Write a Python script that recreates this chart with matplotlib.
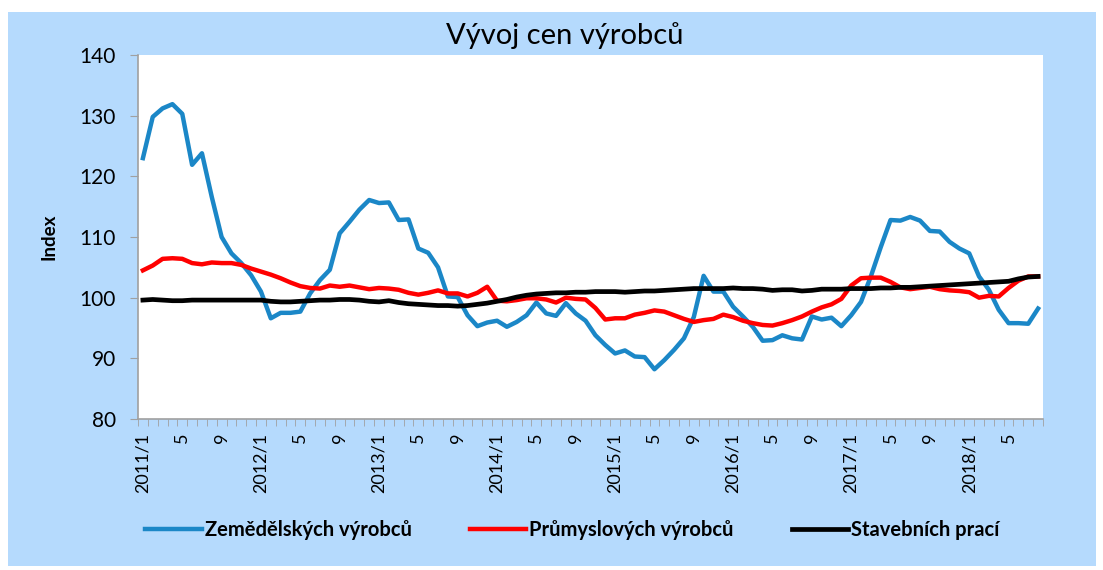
import matplotlib.pyplot as plt
from matplotlib.patches import Rectangle
from matplotlib.ticker import FixedLocator, NullFormatter

plt.rcParams['font.family'] = ['Lato', 'DejaVu Sans']

# měsíce 2011/1 .. 2018/8
n_months = 92
month_labels = []
for i in range(n_months):
    y, m = 2011 + i // 12, i % 12 + 1
    if m == 1:
        month_labels.append(f"{y}/1")
    elif m in (5, 9):
        month_labels.append(str(m))
    else:
        month_labels.append("")

zemedelske = [
    123.0, 129.8, 131.2, 131.9, 130.3, 121.9, 123.8, 116.6, 110.0, 107.3, 105.7, 103.7,
    101.0, 96.6, 97.5, 97.5, 97.7, 100.7, 102.9, 104.6, 110.6, 112.5, 114.5, 116.1,
    115.6, 115.7, 112.8, 112.9, 108.1, 107.4, 105.0, 100.2, 100.1, 97.1, 95.3, 95.9,
    96.2, 95.2, 96.0, 97.1, 99.2, 97.4, 97.0, 99.1, 97.4, 96.2, 93.8, 92.2,
    90.8, 91.3, 90.3, 90.2, 88.2, 89.7, 91.4, 93.3, 96.8, 103.6, 101.0, 101.0,
    98.5, 96.9, 95.2, 92.9, 93.0, 93.8, 93.3, 93.1, 96.9, 96.4, 96.7, 95.3,
    97.1, 99.3, 103.5, 108.3, 112.8, 112.7, 113.3, 112.7, 111.0, 110.9, 109.2, 108.1,
    107.3, 103.5, 101.3, 98.0, 95.8, 95.8, 95.7, 98.2,
]

prumyslove = [
    104.5, 105.3, 106.4, 106.5, 106.4, 105.7, 105.5, 105.8, 105.7, 105.7, 105.4, 104.8,
    104.3, 103.8, 103.2, 102.5, 101.9, 101.6, 101.5, 102.0, 101.8, 102.0, 101.7, 101.4,
    101.6, 101.5, 101.3, 100.8, 100.5, 100.8, 101.2, 100.7, 100.7, 100.2, 100.8, 101.8,
    99.5, 99.4, 99.6, 99.9, 99.9, 99.7, 99.2, 100.0, 99.8, 99.7, 98.3, 96.4,
    96.6, 96.6, 97.2, 97.5, 97.9, 97.7, 97.1, 96.5, 96.0, 96.3, 96.5, 97.2,
    96.8, 96.2, 95.8, 95.5, 95.4, 95.8, 96.3, 96.9, 97.7, 98.4, 98.9, 99.8,
    102.0, 103.2, 103.3, 103.3, 102.6, 101.7, 101.4, 101.6, 101.8, 101.4, 101.2, 101.1,
    100.9, 100.0, 100.3, 100.2, 101.6, 102.8, 103.5, 103.5,
]

stavebni = [
    99.6, 99.7, 99.6, 99.5, 99.5, 99.6, 99.6, 99.6, 99.6, 99.6, 99.6, 99.6,
    99.6, 99.4, 99.3, 99.3, 99.4, 99.5, 99.6, 99.6, 99.7, 99.7, 99.6, 99.4,
    99.3, 99.5, 99.2, 99.0, 98.9, 98.8, 98.7, 98.7, 98.6, 98.7, 98.9, 99.1,
    99.4, 99.7, 100.1, 100.4, 100.6, 100.7, 100.8, 100.8, 100.9, 100.9, 101.0, 101.0,
    101.0, 100.9, 101.0, 101.1, 101.1, 101.2, 101.3, 101.4, 101.5, 101.5, 101.5, 101.5,
    101.6, 101.5, 101.5, 101.4, 101.2, 101.3, 101.3, 101.1, 101.2, 101.4, 101.4, 101.4,
    101.5, 101.5, 101.5, 101.6, 101.6, 101.7, 101.7, 101.8, 101.9, 102.0, 102.1, 102.2,
    102.3, 102.4, 102.5, 102.6, 102.7, 103.1, 103.4, 103.5,
]

fig = plt.figure(figsize=(11.03, 5.70), dpi=100)
fig.patch.set_facecolor('white')
fig.patches.append(Rectangle((8 / 1103, 4 / 570), 1088 / 1103, 554 / 570,
                             transform=fig.transFigure, facecolor='#b5dafd',
                             edgecolor='none', zorder=-10))

ax = fig.add_axes([138 / 1103, 151 / 570, 905 / 1103, 364 / 570])
ax.set_facecolor('white')

x = list(range(n_months))
ax.plot(x, zemedelske, color='#1b87c7', lw=3.2, label='Zemědělských výrobců', zorder=3)
ax.plot(x, prumyslove, color='#ff0000', lw=3.2, label='Průmyslových výrobců', zorder=4)
ax.plot(x, stavebni, color='#000000', lw=3.4, label='Stavebních prací', zorder=5)

ax.set_xlim(-0.5, n_months - 0.5)
ax.set_ylim(80, 140)
ax.set_yticks(range(80, 141, 10))
ax.tick_params(axis='y', labelsize=15, length=6, color='#a0a0a0', pad=10)

ax.set_xticks(x)
ax.set_xticklabels(month_labels, rotation=90, fontsize=13)
ax.tick_params(axis='x', length=0, pad=10)
ax.xaxis.set_minor_locator(FixedLocator([i - 0.5 for i in range(n_months + 1)]))
ax.xaxis.set_minor_formatter(NullFormatter())
ax.tick_params(axis='x', which='minor', length=5, color='#a0a0a0')

for s in ('top', 'right'):
    ax.spines[s].set_visible(False)
for s in ('left', 'bottom'):
    ax.spines[s].set_color('#a0a0a0')
    ax.spines[s].set_linewidth(1.2)

ax.set_ylabel('Index', fontsize=13.5, fontweight='bold', labelpad=16)
fig.text(0.512, 0.937, 'Vývoj cen výrobců', ha='center', va='center', fontsize=21)

fig.legend(loc='center', bbox_to_anchor=(0.519, 0.07), ncol=3, frameon=False,
           handlelength=2.8, columnspacing=2.9, handletextpad=0.15,
           prop={'size': 14.5, 'weight': 'bold'})

fig.savefig('out.png', dpi=100)
